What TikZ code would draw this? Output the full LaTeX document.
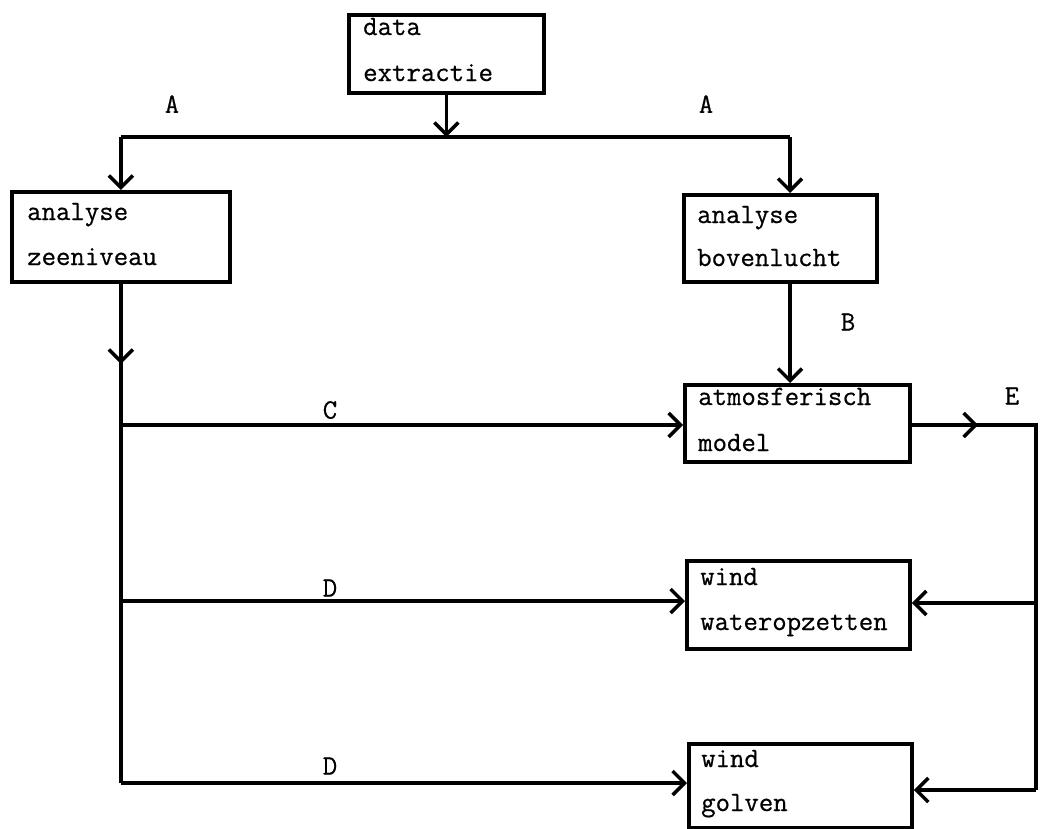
\documentclass[tikz,border=0pt]{standalone}
\usepackage{fontspec}
\newfontfamily\twfont[FakeBold=0.6]{Latin Modern Mono}
\usetikzlibrary{arrows.meta,calc}
\begin{document}
\begin{tikzpicture}[x=1pt,y=-1pt,
  ln/.style={line width=3.5pt},
  arr/.style={ln,-{Straight Barb[length=12pt,width=24pt]}},
  boxnode/.style={draw,line width=3.8pt,anchor=north west,inner sep=0pt},
  txt/.style={anchor=base west,inner sep=0pt,font=\fontsize{28}{43}\selectfont\twfont},
  lbl/.style={inner sep=0pt,font=\fontsize{28}{43}\selectfont\twfont}]
\useasboundingbox (0,0) rectangle (1040,828);
% boxes
\node[boxnode,minimum width=195pt,minimum height=78pt] (dx) at (347,13) {};
\node[boxnode,minimum width=218pt,minimum height=90pt] (az) at (10,190) {};
\node[boxnode,minimum width=193pt,minimum height=87pt] (ab) at (682,193) {};
\node[boxnode,minimum width=225pt,minimum height=77pt] (am) at (683,383) {};
\node[boxnode,minimum width=223pt,minimum height=88pt] (ww) at (685,559) {};
\node[boxnode,minimum width=223pt,minimum height=84pt] (wg) at (687,742) {};
% texts
\node[txt] (dx1) at (363,35) {data};
\node[txt] (dx2) at (363,81) {extractie};
\node[txt] (az1) at (27,220) {analyse};
\node[txt] (az2) at (27,265) {zeeniveau};
\node[txt] (ab1) at (697,223) {analyse};
\node[txt] (ab2) at (697,266) {bovenlucht};
\node[txt] (am1) at (698,405) {atmosferisch};
\node[txt] (am2) at (698,451) {model};
\node[txt] (ww1) at (700,585) {wind};
\node[txt] (ww2) at (700,630) {wateropzetten};
\node[txt] (wg1) at (701,767) {wind};
\node[txt] (wg2) at (701,811) {golven};
% labels
\node[lbl] (la1) at (172,104) {A};
\node[lbl] (la2) at (706,104) {A};
\node[lbl] (lb) at (848,322) {B};
\node[lbl] (lc) at (330,410) {C};
\node[lbl] (ld1) at (330,588) {D};
\node[lbl] (ld2) at (330,766) {D};
\node[lbl] (le) at (1012,396) {E};
% coordinates
\coordinate (jm) at (dx.south |- 0,137);
\coordinate (jl) at (az.north |- 0,137);
\coordinate (jr) at (790,137);
\coordinate (zm) at (az.south |- 0,364);
\coordinate (zb) at (az.south |- 0,783);
\coordinate (c1) at (az.south |- 0,425);
\coordinate (d1) at (az.south |- 0,601);
\coordinate (em) at (978,425);
\coordinate (er) at (1036,425);
\coordinate (e1) at (1036,603);
\coordinate (e2) at (1036,790);
% connectors
\draw[arr] (dx.south) -- (jm);
\draw[ln] (jl) -- (jr);
\draw[arr] (jl) -- (az.north);
\draw[arr] (jr) -- (jr |- ab.north);
\draw[arr] (jr |- ab.south) -- (jr |- am.north);
\draw[arr] (az.south) -- (zm);
\draw[ln] ($(zm)+(0,-3)$) -- (zb);
\draw[arr] (zb) -- (wg.west |- zb);
\draw[arr] (c1) -- (am.west |- c1);
\draw[arr] (d1) -- (ww.west |- d1);
\draw[arr] (am.east |- em) -- (em);
\draw[ln] ($(em)+(-3,0)$) -- (er) -- (e2);
\draw[arr] (e1) -- (ww.east |- e1);
\draw[arr] (e2) -- (wg.east |- e2);
\end{tikzpicture}
\end{document}
